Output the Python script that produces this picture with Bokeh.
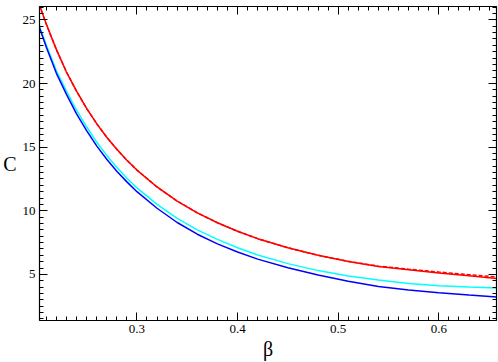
from bokeh.plotting import figure
from bokeh.models import Range1d, LinearAxis, SingleIntervalTicker
from bokeh.embed import file_html
from bokeh.resources import INLINE

beta = [0.2032, 0.21, 0.22, 0.23, 0.24, 0.25, 0.26, 0.27, 0.28, 0.29, 0.30,
        0.32, 0.34, 0.36, 0.38, 0.40, 0.42, 0.45, 0.48, 0.51, 0.54, 0.57,
        0.60, 0.63, 0.6573]
c_red = [26.15, 24.65, 22.66, 20.9, 19.4, 18.04, 16.85, 15.78, 14.83, 13.97,
         13.2, 11.87, 10.76, 9.84, 9.06, 8.39, 7.81, 7.09, 6.5, 6.02, 5.62,
         5.36, 5.12, 4.9, 4.68]
c_red_dash = [26.15, 24.65, 22.66, 20.9, 19.4, 18.04, 16.85, 15.78, 14.83, 13.97,
              13.2, 11.87, 10.76, 9.84, 9.06, 8.39, 7.81, 7.09, 6.5, 6.03, 5.65,
              5.41, 5.19, 4.98, 4.80]
c_cyan = [24.5, 23.0, 21.0, 19.4, 17.9, 16.6, 15.4, 14.35, 13.42, 12.56, 11.8,
          10.5, 9.4, 8.5, 7.75, 7.1, 6.52, 5.85, 5.3, 4.88, 4.56, 4.28, 4.11,
          4.01, 3.94]
c_blue = [24.38, 22.85, 20.8, 19.15, 17.62, 16.3, 15.1, 14.05, 13.1, 12.27,
          11.5, 10.2, 9.08, 8.16, 7.4, 6.76, 6.2, 5.52, 4.95, 4.47, 4.05, 3.77,
          3.56, 3.38, 3.22]

x_lo, x_hi = 0.2032, 0.6573
y_lo, y_hi = 1.38, 26.05

FONT = "'Liberation Serif'"

p = figure(width=498, height=362, output_backend="svg", toolbar_location=None,
           x_range=Range1d(x_lo, x_hi), y_range=Range1d(y_lo, y_hi),
           x_axis_location=None, y_axis_location=None,
           min_border_left=35, min_border_right=2, min_border_top=6,
           min_border_bottom=38)
p.grid.visible = False
p.outline_line_color = "black"
p.outline_line_width = 1
p.background_fill_color = "white"
p.border_fill_color = "white"


def make_axis(ticker_interval, labels=True):
    ax = LinearAxis(ticker=SingleIntervalTicker(interval=ticker_interval, num_minor_ticks=10))
    ax.major_tick_in = 8
    ax.major_tick_out = 0
    ax.minor_tick_in = 4
    ax.minor_tick_out = 0
    ax.axis_line_color = "black"
    ax.axis_line_width = 1.2
    ax.major_tick_line_color = "black"
    ax.minor_tick_line_color = "black"
    ax.major_tick_line_width = 1
    ax.minor_tick_line_width = 1
    if labels:
        ax.major_label_text_font = FONT
        ax.major_label_text_font_size = "13px"
        ax.major_label_text_color = "black"
        ax.major_label_standoff = 4
    else:
        ax.major_label_text_font_size = "1px"
        ax.major_label_text_color = None
        ax.major_label_standoff = 0
    return ax


xb = make_axis(0.1)
xb.axis_label = "β"
xb.axis_label_text_font = FONT
xb.axis_label_text_font_size = "20px"
xb.axis_label_text_font_style = "normal"
xb.axis_label_text_color = "black"
xb.axis_label_standoff = 2
p.add_layout(xb, "below")

yl = make_axis(5)
yl.axis_label = "C"
yl.axis_label_orientation = "horizontal"
yl.axis_label_text_font = FONT
yl.axis_label_text_font_size = "20px"
yl.axis_label_text_font_style = "normal"
yl.axis_label_text_color = "black"
yl.axis_label_standoff = 3
p.add_layout(yl, "left")

xt = make_axis(0.1, labels=False)
p.add_layout(xt, "above")
yr = make_axis(5, labels=False)
p.add_layout(yr, "right")

p.line(beta, c_red, line_color="#ff0000", line_width=1.5)
p.line(beta, c_red_dash, line_color="#ff0000", line_width=1.5, line_dash="4 2")
p.line(beta, c_cyan, line_color="#00ffff", line_width=1.5)
p.line(beta, c_blue, line_color="#0000ff", line_width=1.5)

open("out.html", "w").write(file_html(p, INLINE))
